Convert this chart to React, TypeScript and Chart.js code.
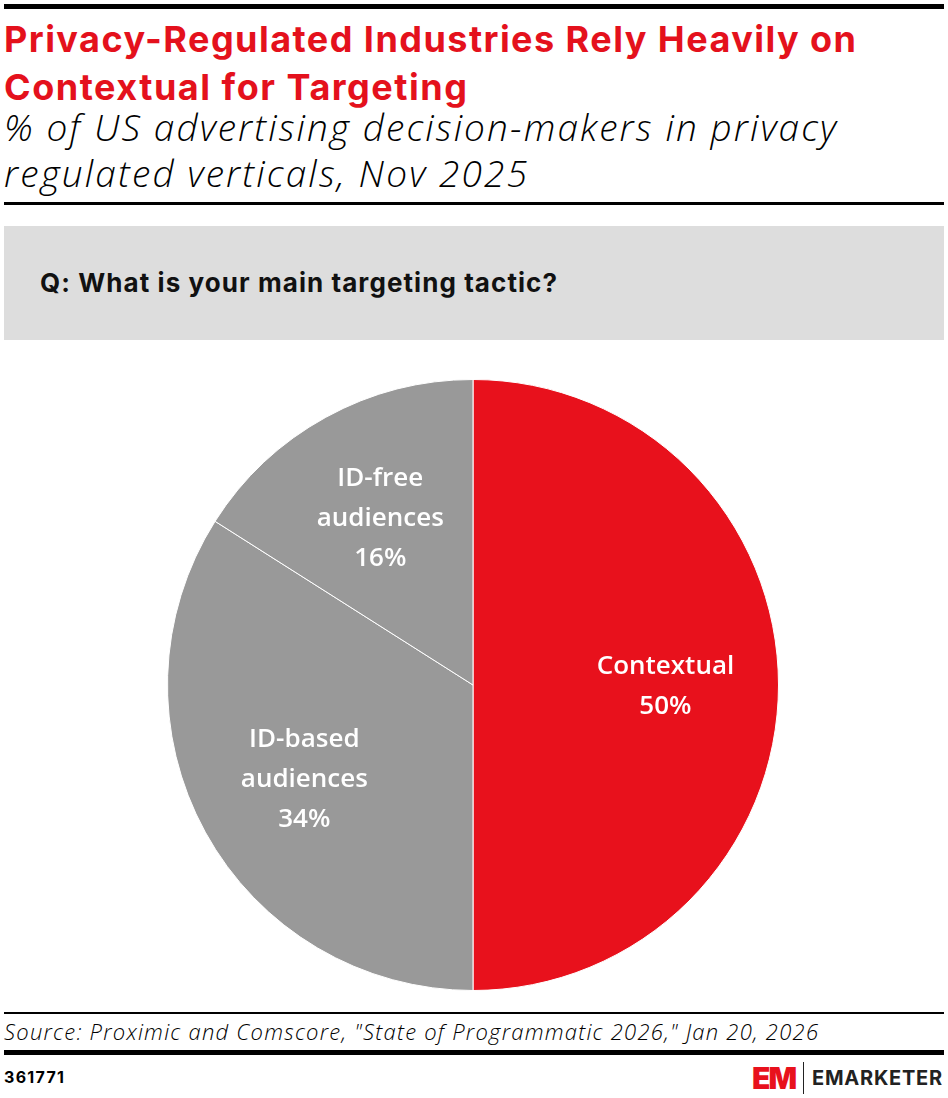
import React, { useEffect, useRef } from "react";
import { Chart, registerables } from "chart.js";

Chart.register(...registerables);

const categories = ["Contextual", "ID-based audiences", "ID-free audiences"];
const values = [50, 34, 16];
const labelLines = [["Contextual"], ["ID-based", "audiences"], ["ID-free", "audiences"]];
const sliceColors = ["#e8111c", "#999999", "#999999"];

const titleLines = ["Privacy-Regulated Industries Rely Heavily on", "Contextual for Targeting"];
const subtitleLines = ["% of US advertising decision-makers in privacy", "regulated verticals, Nov 2025"];
const question = "Q: What is your main targeting tactic?";
const source = 'Source: Proximic and Comscore, "State of Programmatic 2026," Jan 20, 2026';
const chartId = "361771";
const brand = "EMARKETER";

const measureCanvas = typeof document !== "undefined" ? document.createElement("canvas") : null;
function spacingFor(text: string, font: string, target: number) {
  if (!measureCanvas) return 0;
  const c = measureCanvas.getContext("2d")!;
  c.font = font;
  const w = c.measureText(text).width;
  return (target - w) / Math.max(1, text.length - 1);
}

function FitLine(props: { text: string; font: string; width: number; style?: React.CSSProperties }) {
  const ls = spacingFor(props.text, props.font, props.width);
  return (
    <div style={{ font: props.font, letterSpacing: ls, whiteSpace: "nowrap", ...props.style }}>{props.text}</div>
  );
}

const TITLE_FONT = "700 36px Inter, sans-serif";
const SUB_FONT = "italic 300 37px 'Open Sans', sans-serif";
const Q_FONT = "700 26px Inter, sans-serif";
const SRC_FONT = "italic 300 22px 'Open Sans', sans-serif";
const LABEL_FONT = "600 26px 'Open Sans', sans-serif";
const ID_FONT = "700 16px Inter, sans-serif";
const BRAND_FONT = "700 20px Inter, sans-serif";

const labelPlugin = {
  id: "sliceLabels",
  afterDatasetsDraw(chart: any) {
    const ctx = chart.ctx;
    const meta = chart.getDatasetMeta(0);
    ctx.save();
    ctx.fillStyle = "#ffffff";
    ctx.font = LABEL_FONT;
    ctx.textAlign = "center";
    ctx.textBaseline = "middle";
    meta.data.forEach((arc: any, i: number) => {
      const p = arc.getProps(["x", "y", "startAngle", "endAngle", "outerRadius"], true);
      const mid = (p.startAngle + p.endAngle) / 2;
      const r = p.outerRadius * 0.63;
      const cx = p.x + Math.cos(mid) * r;
      const cy = p.y + Math.sin(mid) * r + 2;
      const lines = [...labelLines[i], `${values[i]}%`];
      const lh = 40;
      const top = cy - ((lines.length - 1) * lh) / 2;
      lines.forEach((t, j) => ctx.fillText(t, cx, top + j * lh));
    });
    ctx.restore();
  },
};

export default function App() {
  const ref = useRef<HTMLCanvasElement>(null);
  useEffect(() => {
    document.body.style.margin = "0";
    const chart = new Chart(ref.current!, {
      type: "pie",
      data: {
        labels: categories,
        datasets: [
          {
            data: values,
            backgroundColor: sliceColors,
            borderColor: "#ffffff",
            borderWidth: 1,
          },
        ],
      },
      options: {
        animation: false,
        responsive: false,
        maintainAspectRatio: false,
        layout: { padding: 0 },
        plugins: {
          legend: { display: false },
          tooltip: { enabled: false },
        },
      },
      plugins: [labelPlugin],
    });
    return () => chart.destroy();
  }, []);

  return (
    <div style={{ position: "relative", width: 948, height: 1098, background: "#fff", overflow: "hidden" }}>
      <div style={{ position: "absolute", left: 4, right: 4, top: 4, height: 5, background: "#000" }} />
      <div style={{ position: "absolute", left: 4, top: 15, color: "#e4111c" }}>
        <FitLine text={titleLines[0]} font={TITLE_FONT} width={852} style={{ lineHeight: "48px" }} />
        <FitLine text={titleLines[1]} font={TITLE_FONT} width={463} style={{ lineHeight: "48px" }} />
      </div>
      <div style={{ position: "absolute", left: 4, top: 104, color: "#000" }}>
        <FitLine text={subtitleLines[0]} font={SUB_FONT} width={832} style={{ lineHeight: "46px" }} />
        <FitLine text={subtitleLines[1]} font={SUB_FONT} width={523} style={{ lineHeight: "46px" }} />
      </div>
      <div style={{ position: "absolute", left: 4, right: 4, top: 202, height: 3, background: "#000" }} />
      <div style={{ position: "absolute", left: 4, right: 4, top: 226, height: 114, background: "#dddddd" }}>
        <div style={{ position: "absolute", left: 36, top: 0, color: "#111" }}>
          <FitLine text={question} font={Q_FONT} width={517} style={{ lineHeight: "114px" }} />
        </div>
      </div>
      <canvas ref={ref} width={612} height={612} style={{ position: "absolute", left: 167, top: 379, width: 612, height: 612 }} />
      <div style={{ position: "absolute", left: 4, right: 4, top: 1012, height: 2, background: "#000" }} />
      <div style={{ position: "absolute", left: 4, top: 1016, color: "#000" }}>
        <FitLine text={source} font={SRC_FONT} width={814} style={{ lineHeight: "30px" }} />
      </div>
      <div style={{ position: "absolute", left: 4, right: 4, top: 1050, height: 5, background: "#000" }} />
      <div style={{ position: "absolute", left: 4, top: 1066, color: "#000" }}>
        <FitLine text={chartId} font={ID_FONT} width={60} style={{ lineHeight: "22px" }} />
      </div>
      <div style={{ position: "absolute", left: 752, top: 1062, height: 32, display: "flex", alignItems: "center", fontFamily: "Inter, sans-serif" }}>
        <span style={{ color: "#e8111c", fontWeight: 900, fontSize: 30, letterSpacing: -2, lineHeight: "32px" }}>EM</span>
        <span style={{ display: "inline-block", width: 1, height: 32, background: "#222", margin: "0 8px 0 8px" }} />
        <FitLine text={brand} font={BRAND_FONT} width={130} style={{ color: "#222", lineHeight: "32px" }} />
      </div>
    </div>
  );
}
